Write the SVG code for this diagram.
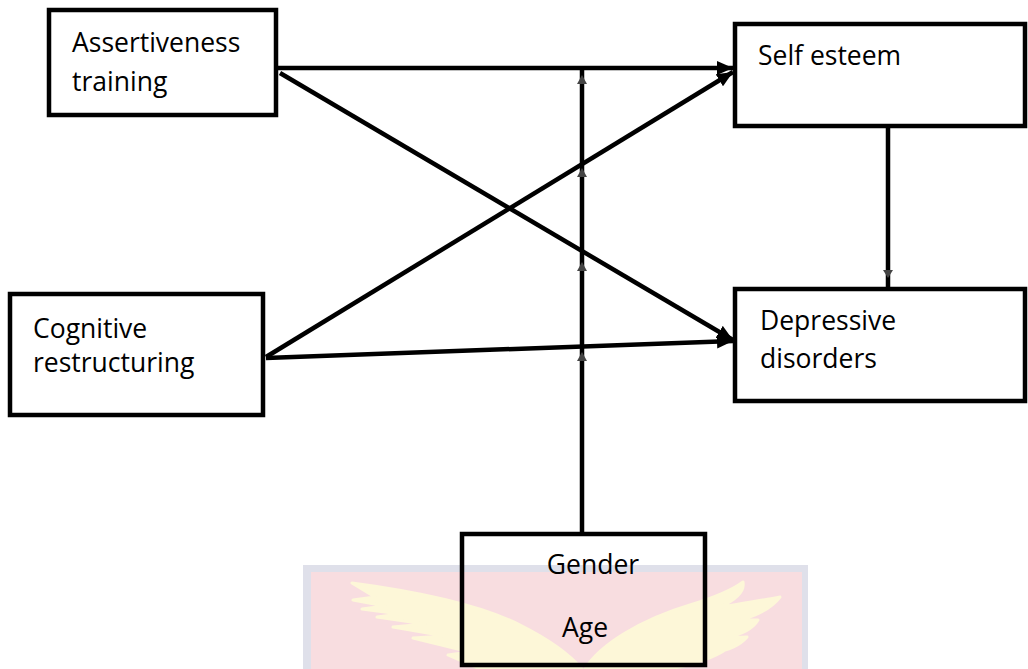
<svg xmlns="http://www.w3.org/2000/svg" width="1028" height="669" viewBox="0 0 1028 669">
<defs>
<style>
.box{fill:none;stroke:#000;stroke-width:4.5}
.lbl{font-family:"Open Sans","Liberation Sans",sans-serif;font-size:26.5px;fill:#000}
.con{stroke:#000;stroke-width:4.5;fill:none}
.tick{fill:#444}
</style>
<marker id="ah" markerUnits="userSpaceOnUse" markerWidth="18" markerHeight="14" refX="16" refY="7" orient="auto">
<path d="M0,0 L16,7 L0,14 Z" fill="#000"/>
</marker>
</defs>
<rect width="1028" height="669" fill="#fff"/>
<g id="watermark">
<rect x="303" y="565" width="505" height="104" fill="#dfe0ea"/>
<rect x="311" y="572" width="491" height="97" fill="#f8dde0"/>
<path d="M352,583 C420,592 480,605 520,625 C550,640 570,655 582,669 L480,669 L448,655 L470,652 L413,638 L445,636 L393,627 L425,624 L377,617 L400,614 L362,609 L385,606 L353,600 L375,597 Z" fill="#fdf7d8" stroke="#fdf7d8" stroke-width="3" stroke-linejoin="round"/>
<path d="M585,669 C600,645 640,620 690,605 C720,596 735,588 743,582 C745,592 735,600 720,607 C745,603 765,600 780,597 C770,610 755,616 740,620 L758,620 C752,630 740,635 725,638 L747,637 C740,645 730,650 715,652 L725,650 C710,660 690,665 670,669 Z" fill="#fdf7d8" stroke="#fdf7d8" stroke-width="3" stroke-linejoin="round"/>
</g>
<g id="connectors">
<line class="con" x1="278" y1="68" x2="733" y2="68" marker-end="url(#ah)"/>
<line class="con" x1="280" y1="73" x2="733" y2="340" marker-end="url(#ah)"/>
<line class="con" x1="266" y1="357" x2="733" y2="72" marker-end="url(#ah)"/>
<line class="con" x1="266" y1="358" x2="733" y2="341" marker-end="url(#ah)"/>
<line class="con" x1="888" y1="128" x2="888" y2="287"/>
<path class="tick" d="M888,278 l-5,-8 h10 Z"/>
<line class="con" x1="582" y1="532" x2="582" y2="68" stroke-width="5"/>
<path class="tick" d="M582,75 l-5,9 h10 Z"/>
<path class="tick" d="M582,168 l-5,9 h10 Z"/>
<path class="tick" d="M582,262 l-5,9 h10 Z"/>
<path class="tick" d="M582,352 l-5,9 h10 Z"/>
</g>
<g id="assertiveness">
<rect class="box" x="49" y="10" width="227" height="105"/>
<text class="lbl" x="72" y="52">Assertiveness</text>
<text class="lbl" x="72" y="91">training</text>
</g>
<g id="cognitive">
<rect class="box" x="10" y="294" width="253" height="121"/>
<text class="lbl" x="33" y="338">Cognitive</text>
<text class="lbl" x="33" y="372">restructuring</text>
</g>
<g id="selfesteem">
<rect class="box" x="735" y="24" width="290" height="102"/>
<text class="lbl" x="758" y="65">Self esteem</text>
</g>
<g id="depressive">
<rect class="box" x="735" y="289" width="290" height="112"/>
<text class="lbl" x="760" y="330">Depressive</text>
<text class="lbl" x="760" y="368">disorders</text>
</g>
<g id="gender">
<rect class="box" x="462" y="534" width="243" height="131"/>
<text class="lbl" x="593" y="574" text-anchor="middle">Gender</text>
<text class="lbl" x="585" y="637" text-anchor="middle">Age</text>
</g>
</svg>
